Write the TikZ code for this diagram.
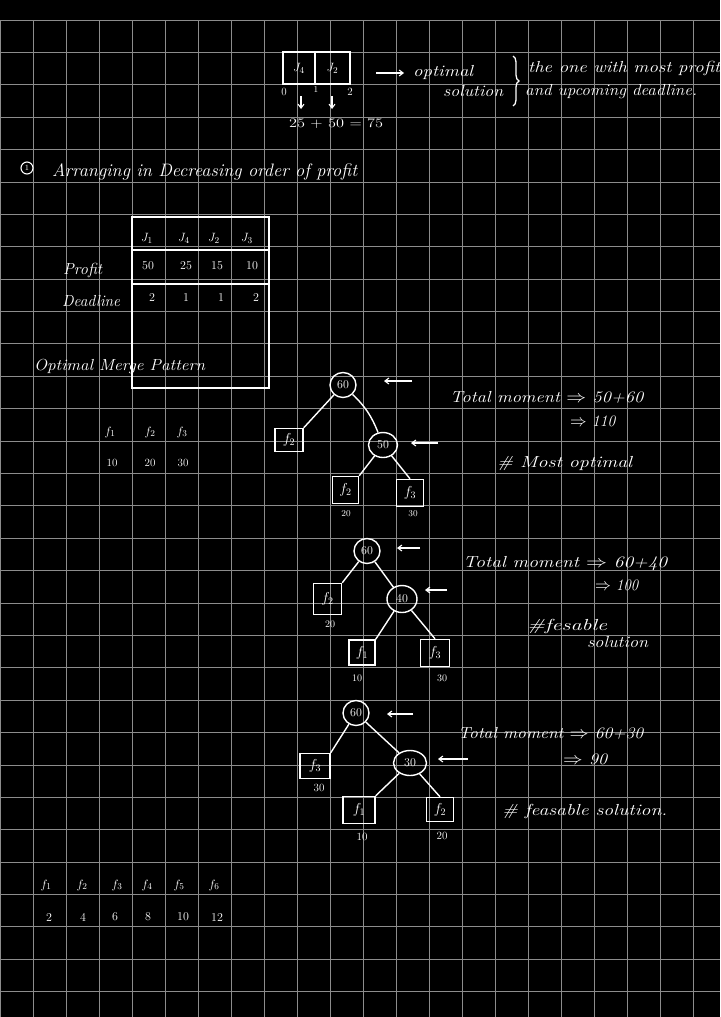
\documentclass[tikz,border=0pt]{standalone}
\usetikzlibrary{arrows.meta,shapes.geometric,decorations.pathreplacing}
\newcommand\hw[2]{\resizebox{#1pt}{\height}{#2}}
\definecolor{gridc}{RGB}{140,140,140}
\begin{document}
\begin{tikzpicture}[x=1pt,y=-1pt,
  txt/.style={text=white, inner sep=0pt, font=\fontsize{16}{18}\selectfont\itshape, anchor=west},
  num/.style={text=white, inner sep=0pt, font=\fontsize{11}{13}\selectfont},
  circ/.style={draw=white, ellipse, line width=1.4pt, minimum width=26pt, minimum height=25pt, inner sep=0pt, text=white, font=\fontsize{12}{14}\selectfont},
  leaf/.style={draw=white, rectangle, line width=1.4pt, minimum width=27pt, minimum height=26pt, inner sep=0pt, text=white, font=\fontsize{14}{16}\selectfont},
  larr/.style={white, line width=1.1pt, -{Straight Barb[length=4pt,width=6pt]}},
  tedge/.style={white, line width=1.4pt},
  jbox/.style={draw=white, rectangle, line width=2.6pt, minimum height=32pt, inner sep=0pt, text=white, font=\fontsize{13}{15}\selectfont}]
\fill[black] (0,0) rectangle (720,1017);
\useasboundingbox (0,0) rectangle (720,1017);
\foreach \k in {0,...,30} \draw[gridc, line width=0.9pt] (0,{20+32.39*\k}) -- (720,{20+32.39*\k});
\foreach \k in {0,...,21} \draw[gridc, line width=0.9pt] ({33*\k},20) -- ({33*\k},1017);

% ---------- top: J4 J2 ----------
\node[jbox, minimum width=32pt] (j4) at (299,68) {$J_4$};
\node[jbox, minimum width=35pt] (j2) at (332.5,68) {$J_2$};
\node[num] (z0) at (284,92) {0};
\node[num, font=\fontsize{9}{10}\selectfont] (z1) at (316,90) {1};
\node[num] (z2) at (350,92) {2};
\coordinate (d1s) at (301,96); \coordinate (d1e) at (301,109);
\coordinate (d2s) at (332,96); \coordinate (d2e) at (332,109);
\draw[larr] (d1s) -- (d1e);
\draw[larr] (d2s) -- (d2e);
\node[txt, font=\fontsize{13}{15}\selectfont] (sum) at (289,124) {\hw{94}{25 + 50 = 75}};
\coordinate (o1s) at (376,73); \coordinate (o1e) at (404,73);
\draw[larr] (o1s) -- (o1e);
\node[txt] (opt) at (413,72) {\hw{60}{optimal}};
\node[txt] (sol) at (443,91) {\hw{60}{solution}};
\coordinate (br1) at (513,56); \coordinate (br2) at (513,106);
\draw[white, line width=1.3pt, decorate, decoration={brace, amplitude=6pt}] (br1) -- (br2);
\node[txt] (one) at (528,68) {\hw{192}{the one with most profit}};
\node[txt] (upc) at (525,92) {\hw{172}{and upcoming deadline.}};

% ---------- heading ----------
\node[draw=white, circle, line width=1.1pt, minimum size=12pt, inner sep=0pt, text=white, font=\fontsize{8}{9}\selectfont] (c1) at (27,168) {1};
\node[txt, font=\fontsize{18}{20}\selectfont\itshape] (head) at (52,172) {\hw{305}{Arranging in Decreasing order of profit}};

% ---------- table ----------
\draw[white, line width=2.6pt] (132,217) rectangle (269,388);
\draw[white, line width=2.6pt] (132,250) -- (269,250);
\draw[white, line width=2.2pt] (132,284) -- (269,284);
\node[num, font=\fontsize{13}{15}\selectfont] (h1) at (147,238) {$J_1$};
\node[num, font=\fontsize{13}{15}\selectfont] (h2) at (184,238) {$J_4$};
\node[num, font=\fontsize{13}{15}\selectfont] (h3) at (214,238) {$J_2$};
\node[num, font=\fontsize{13}{15}\selectfont] (h4) at (247,238) {$J_3$};
\node[num, font=\fontsize{12}{14}\selectfont] (p1) at (148,266) {50};
\node[num, font=\fontsize{12}{14}\selectfont] (p2) at (186,266) {25};
\node[num, font=\fontsize{12}{14}\selectfont] (p3) at (217,266) {15};
\node[num, font=\fontsize{12}{14}\selectfont] (p4) at (252,266) {10};
\node[num, font=\fontsize{12}{14}\selectfont] (e1) at (152,298) {2};
\node[num, font=\fontsize{12}{14}\selectfont] (e2) at (186,298) {1};
\node[num, font=\fontsize{12}{14}\selectfont] (e3) at (221,298) {1};
\node[num, font=\fontsize{12}{14}\selectfont] (e4) at (256,298) {2};
\node[txt] (prof) at (63,270) {\hw{39}{Profit}};
\node[txt] (dead) at (62,301) {\hw{58}{Deadline}};
\node[txt] (omp) at (34,366) {\hw{171}{Optimal Merge Pattern}};

% ---------- f1 f2 f3 ----------
\node[num, font=\fontsize{13}{15}\selectfont] (fa) at (110,432) {$f_1$};
\node[num, font=\fontsize{13}{15}\selectfont] (fb) at (150,432) {$f_2$};
\node[num, font=\fontsize{13}{15}\selectfont] (fc) at (182,432) {$f_3$};
\node[num] (va) at (112,463) {10};
\node[num] (vb) at (150,463) {20};
\node[num] (vc) at (183,463) {30};

% ---------- tree 1 ----------
\node[circ] (t1r) at (343,385) {60};
\node[circ, minimum width=29pt] (t1m) at (383,445) {50};
\node[leaf, minimum width=28pt, minimum height=23pt] (t1a) at (289,440) {$f_2$};
\node[leaf, minimum width=26pt, minimum height=27pt] (t1b) at (345.5,490) {$f_2$};
\node[leaf, minimum width=27pt, minimum height=27pt] (t1c) at (410,493) {$f_3$};
\draw[tedge] (t1r) -- (t1a.north east);
\draw[tedge] (t1r) to[bend left=12] (t1m);
\draw[tedge] (t1m) -- (t1b.north east);
\draw[tedge] (t1m) -- (t1c.north);
\node[num, font=\fontsize{9}{11}\selectfont] (t1bn) at (346,514) {20};
\node[num, font=\fontsize{9}{11}\selectfont] (t1cn) at (413,514) {30};
\coordinate (a1s) at (412,381); \coordinate (a1e) at (384,381);
\draw[larr] (a1s) -- (a1e);
\coordinate (a2s) at (438,443); \coordinate (a2e) at (411,443);
\draw[larr] (a2s) -- (a2e);
\node[txt] (tm1) at (450,397) {\hw{193}{Total moment $\Rightarrow$ 50+60}};
\node[txt] (tm1b) at (570,421) {\hw{45}{$\Rightarrow$ 110}};
\node[txt] (mo) at (497,463) {\hw{135}{\# Most optimal}};

% ---------- tree 2 ----------
\node[circ] (t2r) at (367,551) {60};
\node[circ, minimum width=30pt, minimum height=27pt] (t2m) at (402,599) {40};
\node[leaf, minimum width=28pt, minimum height=31pt] (t2a) at (327.5,599) {$f_2$};
\node[leaf, minimum width=26pt, minimum height=25pt] (t2b) at (362,652.5) {$f_1$};
\node[leaf, minimum width=29pt, minimum height=27pt] (t2c) at (435,653) {$f_3$};
\draw[tedge] (t2r) -- (t2a.north east);
\draw[tedge] (t2r) -- (t2m);
\draw[tedge] (t2m) -- (t2b.north east);
\draw[tedge] (t2m) -- (t2c.north);
\node[num, font=\fontsize{10}{12}\selectfont] (t2an) at (330,624) {20};
\node[num, font=\fontsize{10}{12}\selectfont] (t2bn) at (357,678) {10};
\node[num, font=\fontsize{10}{12}\selectfont] (t2cn) at (442,678) {30};
\coordinate (a3s) at (420,548); \coordinate (a3e) at (397,548);
\draw[larr] (a3s) -- (a3e);
\coordinate (a4s) at (447,590); \coordinate (a4e) at (425,590);
\draw[larr] (a4s) -- (a4e);
\node[txt] (tm2) at (463,563) {\hw{204}{Total moment $\Rightarrow$ 60+40}};
\node[txt] (tm2b) at (595,585) {\hw{43}{$\Rightarrow$ 100}};
\node[txt] (fs1) at (527,626) {\hw{80}{\#fesable}};
\node[txt] (fs2) at (587,642) {\hw{61}{solution}};

% ---------- tree 3 ----------
\node[circ] (t3r) at (356,713) {60};
\node[circ, minimum width=33pt] (t3m) at (410,763) {30};
\node[leaf, minimum width=30pt, minimum height=25pt] (t3a) at (315,766) {$f_3$};
\node[leaf, minimum width=32pt, minimum height=27pt] (t3b) at (359,810) {$f_1$};
\node[leaf, minimum width=27pt, minimum height=24pt] (t3c) at (440,809.5) {$f_2$};
\draw[tedge] (t3r) -- (t3a.north east);
\draw[tedge] (t3r) -- (t3m);
\draw[tedge] (t3m) -- (t3b.north east);
\draw[tedge] (t3m) -- (t3c.north);
\node[num, font=\fontsize{11}{13}\selectfont] (t3an) at (319,788) {30};
\node[num, font=\fontsize{11}{13}\selectfont] (t3bn) at (362,837) {10};
\node[num, font=\fontsize{11}{13}\selectfont] (t3cn) at (442,836) {20};
\coordinate (a5s) at (413,714); \coordinate (a5e) at (387,714);
\draw[larr] (a5s) -- (a5e);
\coordinate (a6s) at (468,759); \coordinate (a6e) at (438,759);
\draw[larr] (a6s) -- (a6e);
\node[txt] (tm3) at (458,733) {\hw{185}{Total moment $\Rightarrow$ 60+30}};
\node[txt] (tm3b) at (563,759) {\hw{44}{$\Rightarrow$ 90}};
\node[txt] (fs3) at (502,811) {\hw{165}{\# feasable solution.}};

% ---------- bottom f1..f6 ----------
\foreach \i/\x/\v/\vx in {1/46/2/49,2/82/4/83,3/117/6/115,4/147/8/148,5/179/10/183,6/214/12/217}{
  \node[num, font=\fontsize{13}{15}\selectfont] (g\i) at (\x,885) {$f_{\i}$};
  \node[num, font=\fontsize{12}{14}\selectfont] (gv\i) at (\vx,917) {\v};
}
\end{tikzpicture}
\end{document}
